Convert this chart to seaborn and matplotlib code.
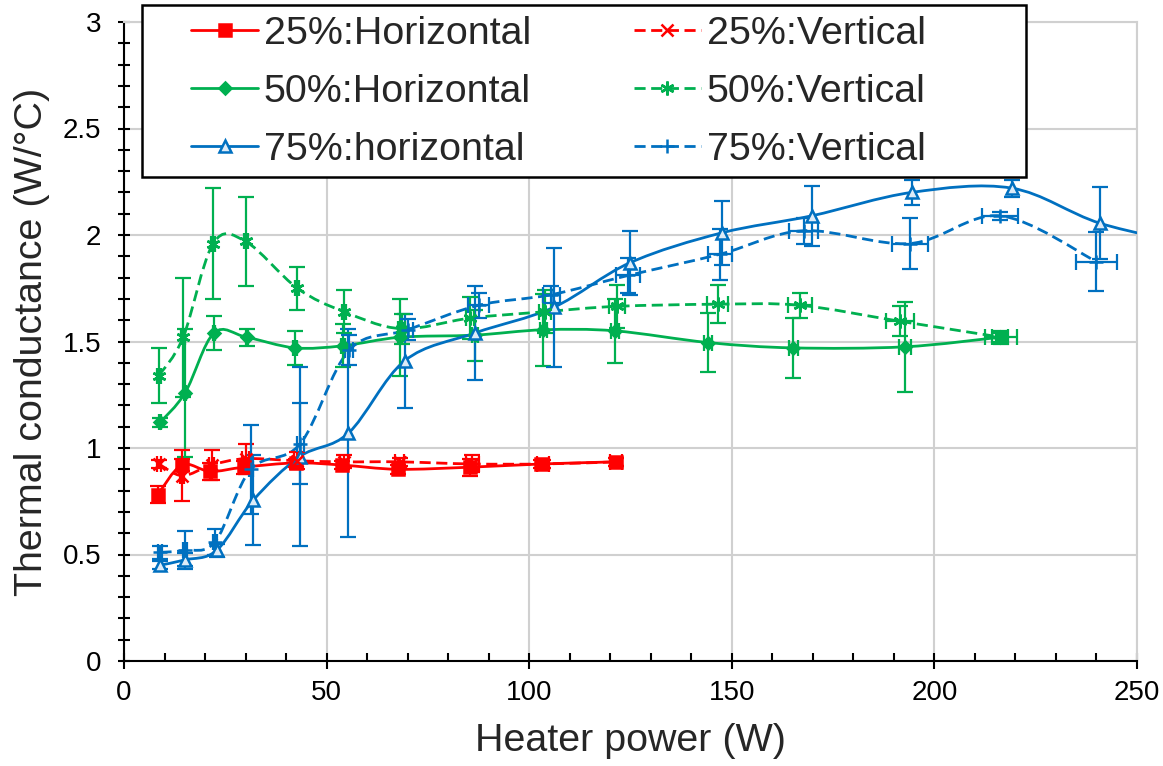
import numpy as np
import matplotlib
matplotlib.use("Agg")
import matplotlib.pyplot as plt
from matplotlib.path import Path
from matplotlib.patches import PathPatch, Rectangle
from matplotlib.lines import Line2D
from matplotlib.ticker import MultipleLocator
import seaborn as sns

# ================= DATOS =================
# 25% Horizontal
h25_x = [8.3, 14.3, 21.3, 29.6, 42.4, 53.8, 67.6, 85.5, 103.0, 121.5]
h25_y = [0.78, 0.92, 0.89, 0.91, 0.93, 0.92, 0.90, 0.91, 0.925, 0.935]
h25_yerr = [0.04, 0.03, 0.04, 0.03, 0.02, 0.02, 0.02, 0.04, 0.02, 0.02]

# 25% Vertical
v25_x = [8.6, 14.4, 21.6, 30.0, 42.8, 54.2, 68.0, 86.0, 103.5, 121.5]
v25_y = [0.925, 0.87, 0.92, 0.95, 0.94, 0.935, 0.935, 0.925, 0.925, 0.935]
v25_yerr = [0.02, 0.12, 0.07, 0.07, 0.04, 0.03, 0.02, 0.04, 0.02, 0.02]
v25_xerr = [0.5, 0.5, 0.5, 0.8, 0.8, 1.0, 1.0, 1.5, 1.5, 1.5]

# 50% Horizontal
h50_x = [8.9, 15.1, 22.2, 30.3, 42.2, 54.1, 68.1, 86.6, 103.5, 121.2, 144.2, 165.2, 192.7, 216.2]
h50_y = [1.12, 1.26, 1.54, 1.52, 1.47, 1.48, 1.52, 1.53, 1.555, 1.55, 1.495, 1.47, 1.475, 1.52]
h50_yerr = [0.02, 0.30, 0.08, 0.04, 0.08, 0.10, 0.18, 0.12, 0.17, 0.15, 0.14, 0.14, 0.21, 0.02]
h50_xerr = [0.3, 0.3, 0.3, 0.3, 0.5, 0.5, 0.5, 0.8, 0.8, 1.0, 1.0, 1.2, 1.5, 2.0]

# 50% Vertical
v50_x = [8.6, 14.6, 22.0, 30.0, 42.8, 54.3, 68.5, 85.5, 104.0, 121.6, 146.5, 166.8, 191.5, 216.5]
v50_y = [1.34, 1.52, 1.96, 1.97, 1.75, 1.64, 1.56, 1.61, 1.64, 1.665, 1.675, 1.67, 1.595, 1.52]
v50_yerr = [0.13, 0.28, 0.26, 0.21, 0.10, 0.10, 0.07, 0.10, 0.10, 0.10, 0.09, 0.06, 0.07, 0.03]
v50_xerr = [0.5, 0.5, 0.5, 0.5, 0.5, 0.5, 0.8, 1.0, 1.5, 2.0, 2.5, 3.0, 3.5, 4.0]

# 75% horizontal (ultimo punto fuera del eje)
h75_x = [8.9, 15.1, 22.9, 31.9, 43.4, 55.4, 69.3, 86.6, 106.0, 124.9, 147.5, 169.7, 194.4, 219.1, 240.9, 265.0]
h75_y = [0.45, 0.475, 0.52, 0.755, 0.96, 1.07, 1.41, 1.54, 1.66, 1.87, 2.01, 2.09, 2.20, 2.22, 2.055, 1.95]
h75_yerr = [0.02, 0.03, 0.03, 0.21, 0.42, 0.49, 0.22, 0.22, 0.28, 0.15, 0.15, 0.14, 0.06, 0.04, 0.17, 0.10]

# 75% Vertical
v75_x = [9.0, 15.0, 22.5, 31.3, 43.5, 55.6, 70.0, 87.5, 105.5, 124.4, 147.1, 167.7, 194.0, 216.2, 240.0]
v75_y = [0.51, 0.52, 0.56, 0.90, 1.02, 1.46, 1.555, 1.67, 1.72, 1.81, 1.91, 2.02, 1.96, 2.09, 1.875]
v75_yerr = [0.03, 0.09, 0.06, 0.21, 0.19, 0.07, 0.05, 0.06, 0.04, 0.08, 0.12, 0.06, 0.12, 0.02, 0.14]
v75_xerr = [0.5, 0.5, 0.5, 0.5, 0.8, 1.0, 1.2, 2.5, 2.0, 3.0, 3.0, 3.5, 4.5, 4.5, 5.0]

RED = "#FF0000"
GREEN = "#00B050"
BLUE = "#0070C0"
LIGHTBLUE = "#DDEBF7"


def smooth_path(x, y):
    # curva suavizada tipo Excel (Catmull-Rom -> Bezier)
    pts = np.column_stack([x, y]).astype(float)
    n = len(pts)
    verts = [pts[0]]
    codes = [Path.MOVETO]
    for i in range(n - 1):
        p0 = pts[max(i - 1, 0)]
        p1 = pts[i]
        p2 = pts[i + 1]
        p3 = pts[min(i + 2, n - 1)]
        verts += [p1 + (p2 - p0) / 6, p2 - (p3 - p1) / 6, p2]
        codes += [Path.CURVE4] * 3
    return Path(verts, codes)


sns.set_style("white")
plt.rcParams["font.family"] = ["Liberation Sans", "DejaVu Sans"]

fig = plt.figure(figsize=(11.63, 7.66), dpi=100)
ax = fig.add_axes([124 / 1163, 1 - 661 / 766, (1137 - 124) / 1163, (661 - 22) / 766])

DASH = (0, (4, 2))
series = [
    (h25_x, h25_y, h25_yerr, None, RED, "-", "s", 9, RED, "25%:Horizontal"),
    (h50_x, h50_y, h50_yerr, h50_xerr, GREEN, "-", "D", 6, GREEN, "50%:Horizontal"),
    (h75_x, h75_y, h75_yerr, None, BLUE, "-", "^", 9, LIGHTBLUE, "75%:horizontal"),
    (v25_x, v25_y, v25_yerr, v25_xerr, RED, DASH, "x", 8, RED, "25%:Vertical"),
    (v50_x, v50_y, v50_yerr, v50_xerr, GREEN, DASH, (6, 2, 0), 10, GREEN, "50%:Vertical"),
    (v75_x, v75_y, v75_yerr, v75_xerr, BLUE, DASH, "+", 10, BLUE, "75%:Vertical"),
]

handles = []
for x, y, yerr, xerr, col, ls, mk, ms, fc, lab in series:
    patch = PathPatch(smooth_path(x, y), fill=False, edgecolor=col, lw=2.0,
                      linestyle=ls, transform=ax.transData, zorder=3)
    ax.add_patch(patch)
    ax.errorbar(x, y, yerr=yerr, xerr=xerr, fmt="none", ecolor=col,
                elinewidth=1.6, capsize=6, capthick=1.6, zorder=4)
    ax.plot(x, y, linestyle="none", marker=mk, markersize=ms, color=col,
            markerfacecolor=fc, markeredgecolor=col, markeredgewidth=1.8, zorder=5)
    handles.append(Line2D([], [], color=col, lw=2.0, linestyle=ls, marker=mk,
                          markersize=ms, markerfacecolor=fc, markeredgecolor=col,
                          markeredgewidth=1.8, label=lab))

ax.set_xlim(0, 250)
ax.set_ylim(0, 3)
ax.xaxis.set_major_locator(MultipleLocator(50))
ax.xaxis.set_minor_locator(MultipleLocator(10))
ax.yaxis.set_major_locator(MultipleLocator(0.5))
ax.yaxis.set_minor_locator(MultipleLocator(0.1))
ax.yaxis.set_major_formatter(plt.FuncFormatter(lambda v, p: f"{v:g}"))

ax.grid(True, which="major", color="#D0D0D0", lw=1.5)
ax.set_axisbelow(True)
for side in ["top", "right"]:
    ax.spines[side].set_color("#D0D0D0")
    ax.spines[side].set_linewidth(1.5)
for side in ["left", "bottom"]:
    ax.spines[side].set_color("black")
    ax.spines[side].set_linewidth(1.5)

ax.tick_params(axis="x", which="both", bottom=True, top=False)
ax.tick_params(axis="y", which="both", left=True, right=False)
ax.tick_params(axis="x", which="major", direction="inout", length=12, width=1.5,
               labelsize=20, pad=8, colors="black")
ax.tick_params(axis="x", which="minor", direction="in", length=6, width=1.5, colors="black")
ax.tick_params(axis="y", which="major", direction="inout", length=9, width=1.5,
               labelsize=20, pad=12, colors="black")
ax.tick_params(axis="y", which="minor", direction="inout", length=9, width=1.5, colors="black")

ax.set_xlabel("Heater power (W)", fontsize=28.4, labelpad=12)
ax.set_ylabel("Thermal conductance (W/°C)", fontsize=28.4, labelpad=9)

# caja de la leyenda
frame = Rectangle((142 / 1163, 1 - 177 / 766), (1026 - 142) / 1163, (177 - 5) / 766,
                  transform=fig.transFigure, facecolor="white", edgecolor="black",
                  lw=1.8, zorder=4)
fig.patches.append(frame)

fig.legend(handles=handles, loc="upper left", bbox_to_anchor=(191 / 1163, 1 - 16 / 766),
           ncol=2, frameon=False, fontsize=28.4, borderpad=0, handlelength=1.7,
           handletextpad=0.15, columnspacing=2.6, labelspacing=0.56, borderaxespad=0)

fig.savefig("out.png", dpi=100)
